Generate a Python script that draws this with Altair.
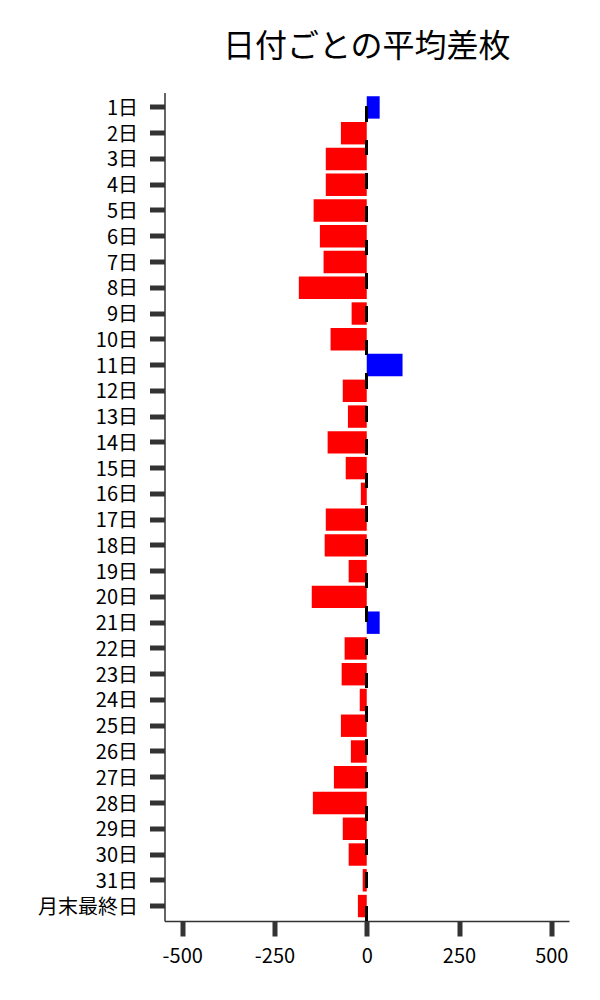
import altair as alt
import pandas as pd

days = ["1日", "2日", "3日", "4日", "5日", "6日", "7日", "8日", "9日", "10日",
        "11日", "12日", "13日", "14日", "15日", "16日", "17日", "18日", "19日", "20日",
        "21日", "22日", "23日", "24日", "25日", "26日", "27日", "28日", "29日", "30日",
        "31日", "月末最終日"]
values = [35, -70, -111, -111, -144, -127, -117, -184, -41, -98,
          97, -65, -51, -106, -57, -16, -111, -114, -49, -149,
          35, -60, -68, -19, -70, -43, -89, -146, -65, -49,
          -11, -24]
x_ticks = [-500, -250, 0, 250, 500]

df = pd.DataFrame({"day": days, "value": values})

FONT = "Noto Sans CJK JP"
W, H = 404.5, 828.5

xscale = alt.Scale(domain=[-548, 548], nice=False, zero=False)

bars = alt.Chart(df).mark_bar().encode(
    y=alt.Y("day:N", sort=days,
            scale=alt.Scale(paddingInner=0.13, paddingOuter=0.145),
            axis=alt.Axis(title=None, labelFontSize=20, labelColor="#000000",
                          labelFont=FONT, tickSize=15, tickWidth=5, tickColor="#333333",
                          domainColor="#333333", domainWidth=1.5, labelPadding=12,
                          labelOffset=1.5, grid=False)),
    x=alt.X("value:Q", scale=xscale,
            axis=alt.Axis(title=None, values=x_ticks, labelFontSize=20, labelColor="#000000",
                          labelFont=FONT, tickSize=15, tickWidth=5, tickColor="#333333",
                          domainColor="#333333", domainWidth=1.5, labelPadding=10,
                          grid=False, labelFlush=False, labelExpr="'' + datum.value")),
    color=alt.condition(alt.datum.value > 0, alt.value("#0000ff"), alt.value("#ff0000")),
)

zero_line = alt.Chart(df).mark_rule(color="#000000", strokeWidth=2, strokeDash=[15, 18.3]).encode(
    x=alt.datum(0),
    y=alt.value(H),
    y2=alt.value(0),
)

chart = alt.layer(bars, zero_line).properties(
    width=W,
    height=H,
    autosize="none",
    padding={"left": 156.5, "top": 84.5, "right": 23, "bottom": 71},
    title=alt.TitleParams(text="日付ごとの平均差枚", fontSize=32, font=FONT,
                          fontWeight="normal", color="#000000", anchor="middle",
                          baseline="alphabetic", offset=3),
).configure(font=FONT).configure_view(strokeWidth=0, stroke=None)

chart.save("out.html", embed_options={"renderer": "svg", "actions": False})
